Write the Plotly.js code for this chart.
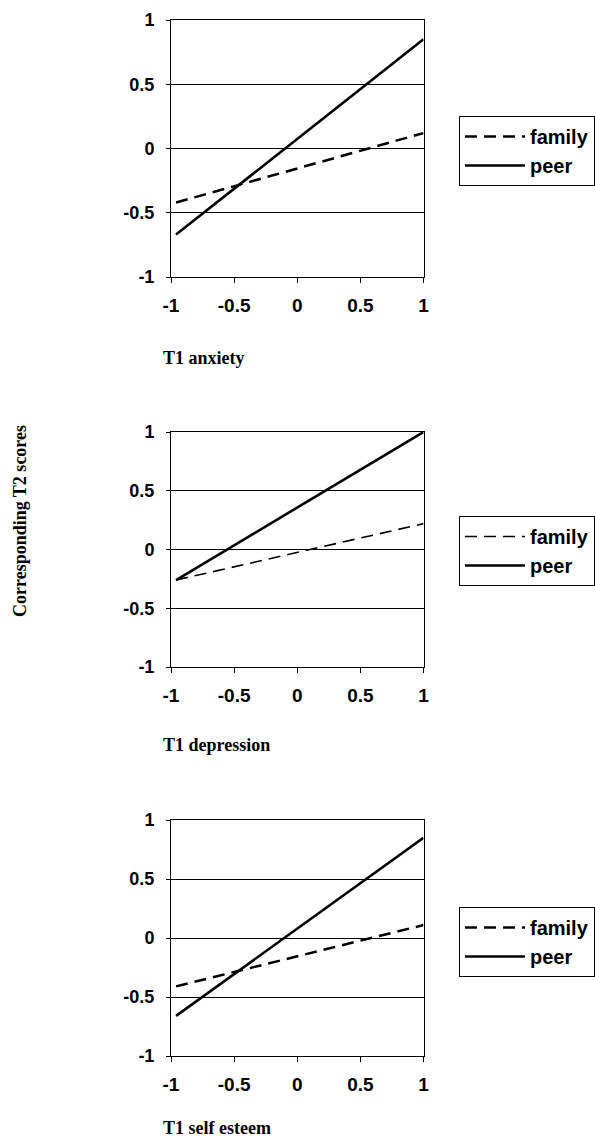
<!DOCTYPE html>
<html>
<head>
<meta charset="utf-8">
<script src="https://cdn.plot.ly/plotly-3.0.1.min.js"></script>
<style>html,body{margin:0;padding:0;background:#fff;}#chart{width:595px;height:1142px;}</style>
</head>
<body>
<div id="chart"></div>
<script>
// ---- data ----
var xEnds = [-0.96, 1];
var anxietyFamily = [-0.42, 0.12];
var anxietyPeer = [-0.67, 0.85];
var depressionFamily = [-0.26, 0.22];
var depressionPeer = [-0.26, 1.0];
var esteemFamily = [-0.41, 0.11];
var esteemPeer = [-0.66, 0.85];
var tickVals = [-1, -0.5, 0, 0.5, 1];
var tickText = ['-1', '-0.5', '0', '0.5', '1'];
var panelTitles = ['T1 anxiety', 'T1 depression', 'T1 self esteem'];
var yTitle = 'Corresponding T2 scores';
var seriesNames = ['family', 'peer'];

var W = 595, H = 1142;
function px(x){return x / W;}
function py(y){return 1 - y / H;}

var sans = 'Liberation Sans, Arial, sans-serif';
var serif = 'Liberation Serif, Times New Roman, serif';

var panels = [
  {fam: anxietyFamily, peer: anxietyPeer, top: 20, bot: 277, famW: 2.5, leg: 116, title: 358},
  {fam: depressionFamily, peer: depressionPeer, top: 432, bot: 667, famW: 1.6, leg: 516, title: 745},
  {fam: esteemFamily, peer: esteemPeer, top: 820, bot: 1056, famW: 2.5, leg: 907, title: 1128}
];

var data = [];
var layout = {
  width: W, height: H,
  margin: {l: 0, r: 0, t: 0, b: 0},
  paper_bgcolor: '#fff', plot_bgcolor: '#fff',
  font: {family: sans, color: '#000'},
  annotations: []
};

panels.forEach(function(p, i){
  var n = i + 1;
  var xa = n === 1 ? 'x' : 'x' + n;
  var ya = n === 1 ? 'y' : 'y' + n;
  var lg = n === 1 ? 'legend' : 'legend' + n;
  data.push({
    x: xEnds, y: p.fam, xaxis: xa, yaxis: ya, mode: 'lines', name: seriesNames[0],
    legend: lg, line: {color: '#000', width: p.famW, dash: '12px,7px'}
  });
  data.push({
    x: xEnds, y: p.peer, xaxis: xa, yaxis: ya, mode: 'lines', name: seriesNames[1],
    legend: lg, line: {color: '#000', width: 2.6}
  });
  var xk = n === 1 ? 'xaxis' : 'xaxis' + n;
  var yk = n === 1 ? 'yaxis' : 'yaxis' + n;
  layout[xk] = {
    domain: [px(171), px(423.5)], anchor: ya, range: [-1, 1],
    tickvals: tickVals, ticktext: tickText, ticks: 'outside', ticklen: 5, tickcolor: '#000',
    showline: true, linecolor: '#000', linewidth: 1, mirror: true,
    showgrid: false, zeroline: false, ticklabelstandoff: 6,
    tickfont: {family: sans, size: 19, color: '#000', weight: 'bold'}
  };
  layout[yk] = {
    domain: [py(p.bot), py(p.top)], anchor: xa, range: [-1, 1],
    tickvals: tickVals, ticktext: tickText, ticks: 'outside', ticklen: 4, tickcolor: '#000',
    showline: true, linecolor: '#000', linewidth: 1, mirror: true,
    showgrid: true, gridcolor: '#000', gridwidth: 1, zeroline: false, ticklabelstandoff: 8,
    tickfont: {family: sans, size: 18, color: '#000', weight: 'bold'}
  };
  layout[lg] = {
    x: px(459), y: py(p.leg), xanchor: 'left', yanchor: 'top',
    bgcolor: '#fff', bordercolor: '#000', borderwidth: 1,
    font: {family: sans, size: 20, color: '#000', weight: 'bold'},
    itemwidth: 60, tracegroupgap: 0
  };
  layout.annotations.push({
    text: '<b>' + panelTitles[i] + '</b>', xref: 'paper', yref: 'paper',
    x: px(161), y: py(p.title), xanchor: 'left', yanchor: 'middle', showarrow: false,
    font: {family: serif, size: 18, color: '#000'}
  });
});

layout.annotations.push({
  text: '<b>' + yTitle + '</b>', xref: 'paper', yref: 'paper',
  x: px(20), y: py(521), xanchor: 'center', yanchor: 'middle', textangle: -90, showarrow: false,
  font: {family: serif, size: 18, color: '#000'}
});

Plotly.newPlot('chart', data, layout, {displayModeBar: false, staticPlot: true});
</script>
</body>
</html>
